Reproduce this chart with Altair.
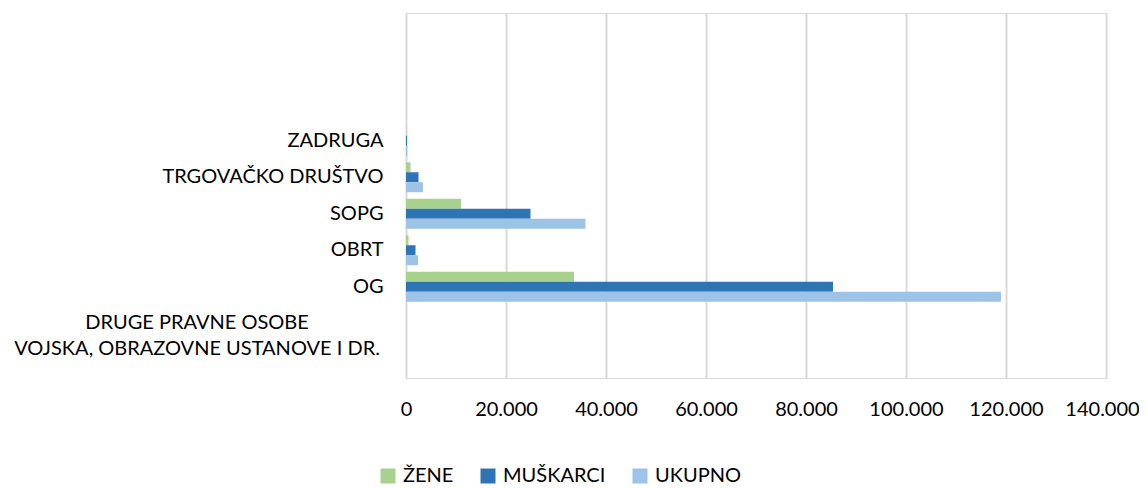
import altair as alt
import pandas as pd

# ---- data ----
categories = [
    "ZADRUGA",
    "TRGOVAČKO DRUŠTVO",
    "SOPG",
    "OBRT",
    "OG",
    "DRUGE PRAVNE OSOBE\nVOJSKA, OBRAZOVNE USTANOVE I DR.",
]
blank_top = [" ", "  ", "   "]
blank_bottom = ["    "]
series = ["ŽENE", "MUŠKARCI", "UKUPNO"]
zene = [50, 900, 11000, 500, 33600, 0]
muskarci = [200, 2500, 24900, 1900, 85400, 0]
ukupno = [250, 3400, 35900, 2400, 119000, 0]
x_ticks = [0, 20000, 40000, 60000, 80000, 100000, 120000, 140000]
colors = ["#A9D18E", "#2E75B6", "#9DC3E6"]

rows = []
for s, vals in zip(series, [zene, muskarci, ukupno]):
    for c, v in zip(categories, vals):
        rows.append({"cat": c, "series": s, "value": v})
df = pd.DataFrame(rows)
label_df = pd.DataFrame({"cat": [categories[-1]]})

FONT = "Lato"
domain = blank_top + categories + blank_bottom

y_enc = alt.Y(
    "cat:N",
    sort=domain,
    scale=alt.Scale(domain=domain, paddingInner=0.18, paddingOuter=0.09),
    axis=alt.Axis(
        title=None,
        labelExpr="indexof(datum.value, 'DRUGE') >= 0 ? '' : datum.value",
        labelPadding=23,
        labelFontSize=20,
        labelFont=FONT,
        labelColor="#000000",
        ticks=False,
        domain=False,
        grid=False,
        labelLimit=600,
    ),
)

bars = alt.Chart(df).mark_bar().encode(
    y=y_enc,
    x=alt.X(
        "value:Q",
        scale=alt.Scale(domain=[0, 140000], nice=False),
        axis=alt.Axis(
            title=None,
            values=x_ticks,
            labelExpr="datum.value == 0 ? '0' : format(datum.value / 1000, 'd') + '.000'",
            labelFontSize=20,
            labelFont=FONT,
            labelColor="#000000",
            labelPadding=21,
            labelOffset={"condition": {"test": "datum.value == 140000", "value": -4}, "value": 0},
            labelOverlap=False,
            labelFlush=False,
            labelBound=False,
            ticks=False,
            domain=False,
            grid=True,
            gridColor="#D9D9D9",
            gridWidth=2,
        ),
    ),
    yOffset=alt.YOffset(
        "series:N", sort=series, scale=alt.Scale(domain=series, paddingInner=0, paddingOuter=0)
    ),
    color=alt.Color(
        "series:N",
        sort=series,
        scale=alt.Scale(domain=series, range=colors),
        legend=alt.Legend(
            title=None,
            orient="none",
            legendX=-28,
            legendY=453,
            direction="horizontal",
            symbolType="square",
            symbolSize=225,
            symbolStrokeWidth=0,
            labelFontSize=20,
            labelFont=FONT,
            labelColor="#000000",
            labelOffset=5,
            columnPadding=24,
            padding=0,
        ),
    ),
)

side_label = alt.Chart(label_df).mark_text(
    align="center",
    baseline="middle",
    lineBreak="\n",
    fontSize=20,
    font=FONT,
    lineHeight=26,
    color="#000000",
).encode(
    y=y_enc,
    x=alt.value(-209),
    text="cat:N",
)

chart = (
    alt.layer(bars, side_label)
    .properties(
        width=700,
        height=365,
        autosize=alt.AutoSizeParams(type="none"),
        padding={"left": 398, "top": 5, "right": 33, "bottom": 110},
    )
    .configure_view(stroke=None)
    .configure(background="white")
)

chart.save("out.html", embed_options={"renderer": "svg", "actions": False})
